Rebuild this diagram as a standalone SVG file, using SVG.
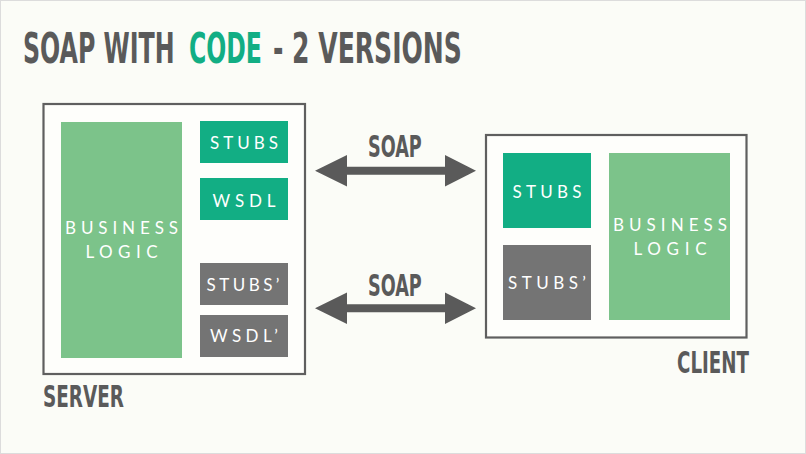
<svg xmlns="http://www.w3.org/2000/svg" width="806" height="454" viewBox="0 0 806 454">
<style>
.head{font-family:"DejaVu Sans Condensed","DejaVu Sans","Liberation Sans",sans-serif;font-weight:bold;fill:#5a5a5a}
.lbl{font-family:Lato,"Noto Sans","Liberation Sans",sans-serif;font-size:17px;fill:#ffffff;text-anchor:middle}
.frame{fill:#fefefb;stroke:#5f5f5f;stroke-width:2.2}
.teal{fill:#12ae84}
.lg{fill:#7cc38a}
.gray{fill:#747474}
.arrow{fill:#5a5a5a}
</style>
<rect x="0" y="0" width="806" height="454" fill="#fbfcf7"/>
<rect x="0.5" y="0.5" width="805" height="453" fill="none" stroke="#dcdcdc"/>
<g id="title">
<text class="head" transform="translate(23,63) scale(0.64,1)" font-size="43" textLength="237" lengthAdjust="spacingAndGlyphs">SOAP WITH</text>
<text class="head" transform="translate(189,63) scale(0.64,1)" font-size="43" textLength="114" lengthAdjust="spacingAndGlyphs" style="fill:#12ae84">CODE</text>
<text class="head" transform="translate(273,63) scale(0.64,1)" font-size="43" textLength="295" lengthAdjust="spacingAndGlyphs">- 2 VERSIONS</text>
</g>
<g id="server">
<rect class="frame" x="43.5" y="104" width="261.5" height="270"/>
<text class="head" transform="translate(43,406.5) scale(0.64,1)" font-size="31" textLength="126.5" lengthAdjust="spacingAndGlyphs">SERVER</text>
</g>
<g id="server-business-logic">
<rect class="lg" x="61" y="122" width="121" height="236"/>
<text class="lbl" x="121.5" y="234" textLength="113" lengthAdjust="spacing">BUSINESS</text>
<text class="lbl" x="121.5" y="258" textLength="72" lengthAdjust="spacing">LOGIC</text>
</g>
<g id="server-stubs">
<rect class="teal" x="200" y="121" width="88" height="42"/>
<text class="lbl" x="244" y="149" textLength="68" lengthAdjust="spacing">STUBS</text>
</g>
<g id="server-wsdl">
<rect class="teal" x="200" y="178" width="88" height="42"/>
<text class="lbl" x="244" y="206.5" textLength="63" lengthAdjust="spacing">WSDL</text>
</g>
<g id="server-stubs2">
<rect class="gray" x="200" y="263" width="88" height="42"/>
<text class="lbl" x="243" y="291" textLength="73" lengthAdjust="spacing">STUBS’</text>
</g>
<g id="server-wsdl2">
<rect class="gray" x="200" y="315" width="88" height="42"/>
<text class="lbl" x="244" y="341.5" textLength="68" lengthAdjust="spacing">WSDL’</text>
</g>
<g id="client">
<rect class="frame" x="486" y="135" width="260.5" height="202.5"/>
<text class="head" transform="translate(677,372.5) scale(0.64,1)" font-size="30" textLength="112.5" lengthAdjust="spacingAndGlyphs">CLIENT</text>
</g>
<g id="client-stubs">
<rect class="teal" x="503" y="153" width="88" height="75"/>
<text class="lbl" x="547" y="197.5" textLength="69" lengthAdjust="spacing">STUBS</text>
</g>
<g id="client-stubs2">
<rect class="gray" x="503" y="245" width="88" height="75"/>
<text class="lbl" x="547" y="289" textLength="78" lengthAdjust="spacing">STUBS’</text>
</g>
<g id="client-business-logic">
<rect class="lg" x="609" y="153" width="121" height="167"/>
<text class="lbl" x="670" y="231" textLength="114" lengthAdjust="spacing">BUSINESS</text>
<text class="lbl" x="670" y="255" textLength="73" lengthAdjust="spacing">LOGIC</text>
</g>
<g id="connectors">
<path class="arrow" d="M315,170.7 L347,155 L347,166.7 L445,166.7 L445,155 L476,170.7 L445,186.5 L445,174.7 L347,174.7 L347,186.5 Z"/>
<text class="head" transform="translate(368,156.5) scale(0.64,1)" font-size="30" textLength="84" lengthAdjust="spacingAndGlyphs">SOAP</text>
<path class="arrow" d="M315,308.3 L347,292.6 L347,304.3 L445,304.3 L445,292.6 L476,308.3 L445,324 L445,312.3 L347,312.3 L347,324 Z"/>
<text class="head" transform="translate(368,296) scale(0.64,1)" font-size="30" textLength="84" lengthAdjust="spacingAndGlyphs">SOAP</text>
</g>
</svg>
